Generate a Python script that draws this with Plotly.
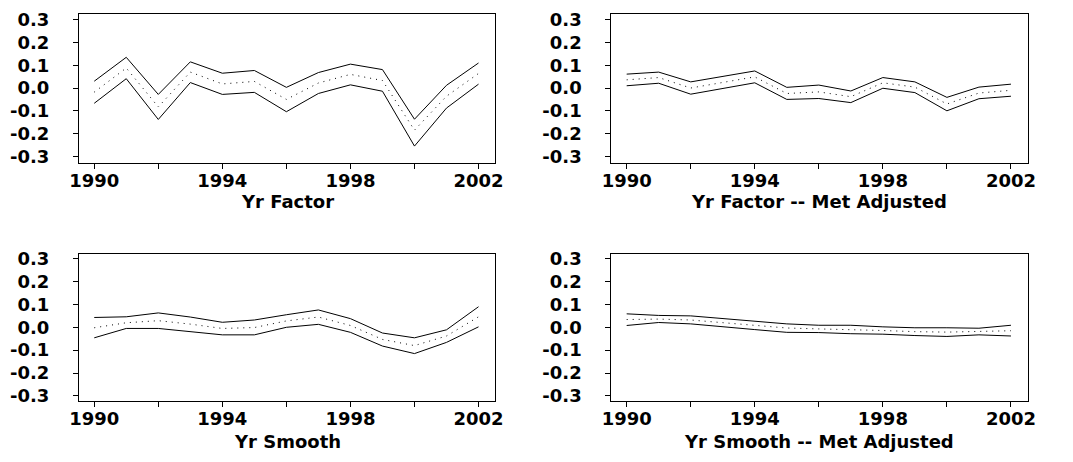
import plotly.graph_objects as go

years = list(range(1990, 2003))

yr_factor_upper = [0.030, 0.135, -0.028, 0.115, 0.065, 0.077, 0.003, 0.068, 0.105, 0.081, -0.137, 0.012, 0.110]
yr_factor_mid = [-0.018, 0.088, -0.083, 0.070, 0.018, 0.029, -0.050, 0.022, 0.060, 0.033, -0.185, -0.036, 0.064]
yr_factor_lower = [-0.067, 0.041, -0.138, 0.024, -0.028, -0.019, -0.104, -0.024, 0.014, -0.014, -0.255, -0.088, 0.017]

met_factor_upper = [0.061, 0.070, 0.027, 0.050, 0.075, 0.003, 0.013, -0.013, 0.046, 0.027, -0.041, 0.004, 0.017]
met_factor_mid = [0.036, 0.046, 0.000, 0.024, 0.049, -0.024, -0.017, -0.038, 0.023, 0.004, -0.070, -0.022, -0.010]
met_factor_lower = [0.010, 0.021, -0.027, -0.003, 0.023, -0.050, -0.046, -0.064, -0.001, -0.020, -0.100, -0.047, -0.036]

yr_smooth_upper = [0.043, 0.046, 0.063, 0.045, 0.022, 0.032, 0.055, 0.076, 0.038, -0.025, -0.046, -0.011, 0.090]
yr_smooth_mid = [-0.002, 0.020, 0.029, 0.014, -0.005, -0.001, 0.028, 0.045, 0.008, -0.053, -0.080, -0.038, 0.046]
yr_smooth_lower = [-0.046, -0.005, -0.005, -0.018, -0.033, -0.033, 0.000, 0.013, -0.022, -0.082, -0.115, -0.066, 0.002]

met_smooth_upper = [0.059, 0.052, 0.050, 0.038, 0.024, 0.015, 0.009, 0.009, 0.002, -0.002, -0.002, -0.004, 0.009]
met_smooth_mid = [0.034, 0.036, 0.032, 0.021, 0.007, -0.003, -0.007, -0.009, -0.014, -0.019, -0.021, -0.018, -0.015]
met_smooth_lower = [0.008, 0.021, 0.015, 0.004, -0.010, -0.022, -0.023, -0.028, -0.030, -0.036, -0.040, -0.033, -0.038]

titles = ["Yr Factor", "Yr Factor -- Met Adjusted", "Yr Smooth", "Yr Smooth -- Met Adjusted"]
panels = [
    (yr_factor_upper, yr_factor_mid, yr_factor_lower),
    (met_factor_upper, met_factor_mid, met_factor_lower),
    (yr_smooth_upper, yr_smooth_mid, yr_smooth_lower),
    (met_smooth_upper, met_smooth_mid, met_smooth_lower),
]

x_tickvals = [1990, 1992, 1994, 1996, 1998, 2000, 2002]
x_ticktext = ["1990", "", "1994", "", "1998", "", "2002"]
y_tickvals = [-0.3, -0.2, -0.1, 0.0, 0.1, 0.2, 0.3]
y_ticktext = ["-0.3", "-0.2", "-0.1", "0.0", "0.1", "0.2", "0.3"]

W, H = 1073, 462
# pixel boxes: (left, right, top, bottom)
boxes = [(71, 494, 8, 161), (612, 1035, 8, 161), (71, 494, 254, 405), (612, 1035, 254, 405)]
yranges = [[-0.330, 0.326], [-0.330, 0.326], [-0.324, 0.321], [-0.324, 0.321]]
title_y = [200, 200, 446, 446]

FONT = "DejaVu Sans"
fig = go.Figure()
layout = dict(width=W, height=H, margin=dict(l=0, r=0, t=0, b=0),
              paper_bgcolor="white", plot_bgcolor="white", showlegend=False)
annotations = []

for i, ((up, mid, lo), title, (l, r, t, b), yr, ty) in enumerate(zip(panels, titles, boxes, yranges, title_y)):
    n = "" if i == 0 else str(i + 1)
    xa, ya = "x" + n, "y" + n
    for vals, dash in ((up, "solid"), (mid, "1px,5px"), (lo, "solid")):
        fig.add_trace(go.Scatter(x=years, y=vals, mode="lines", xaxis=xa, yaxis=ya,
                                 line=dict(color="black", width=1, dash=dash),
                                 hoverinfo="skip"))
    layout["xaxis" + n] = dict(
        domain=[l / W, r / W], anchor=ya, range=[1989.52, 2002.52],
        tickvals=x_tickvals, ticktext=x_ticktext, ticks="outside", ticklen=5,
        tickcolor="black", showline=True, linecolor="black", linewidth=1, mirror=True,
        showgrid=False, zeroline=False, ticklabelstandoff=-4,
        tickfont=dict(family=FONT, size=18, color="black", weight="bold"),
    )
    layout["yaxis" + n] = dict(
        domain=[(H - b) / H, (H - t) / H], anchor=xa, range=yr,
        tickvals=y_tickvals, ticktext=y_ticktext, ticks="outside", ticklen=5,
        tickcolor="black", showline=True, linecolor="black", linewidth=1, mirror=True,
        showgrid=False, zeroline=False, ticklabelstandoff=20,
        tickfont=dict(family=FONT, size=18, color="black", weight="bold"),
    )
    annotations.append(dict(text=title, x=(l + r) / 2 / W, y=(H - ty) / H,
                            xref="paper", yref="paper", xanchor="center", yanchor="middle",
                            showarrow=False,
                            font=dict(family=FONT, size=18, color="black", weight="bold")))

layout["annotations"] = annotations
fig.update_layout(**layout)
fig.write_html("out.html", config={"displayModeBar": False},
               post_script="document.body.style.margin='0';document.body.style.padding='0';")
